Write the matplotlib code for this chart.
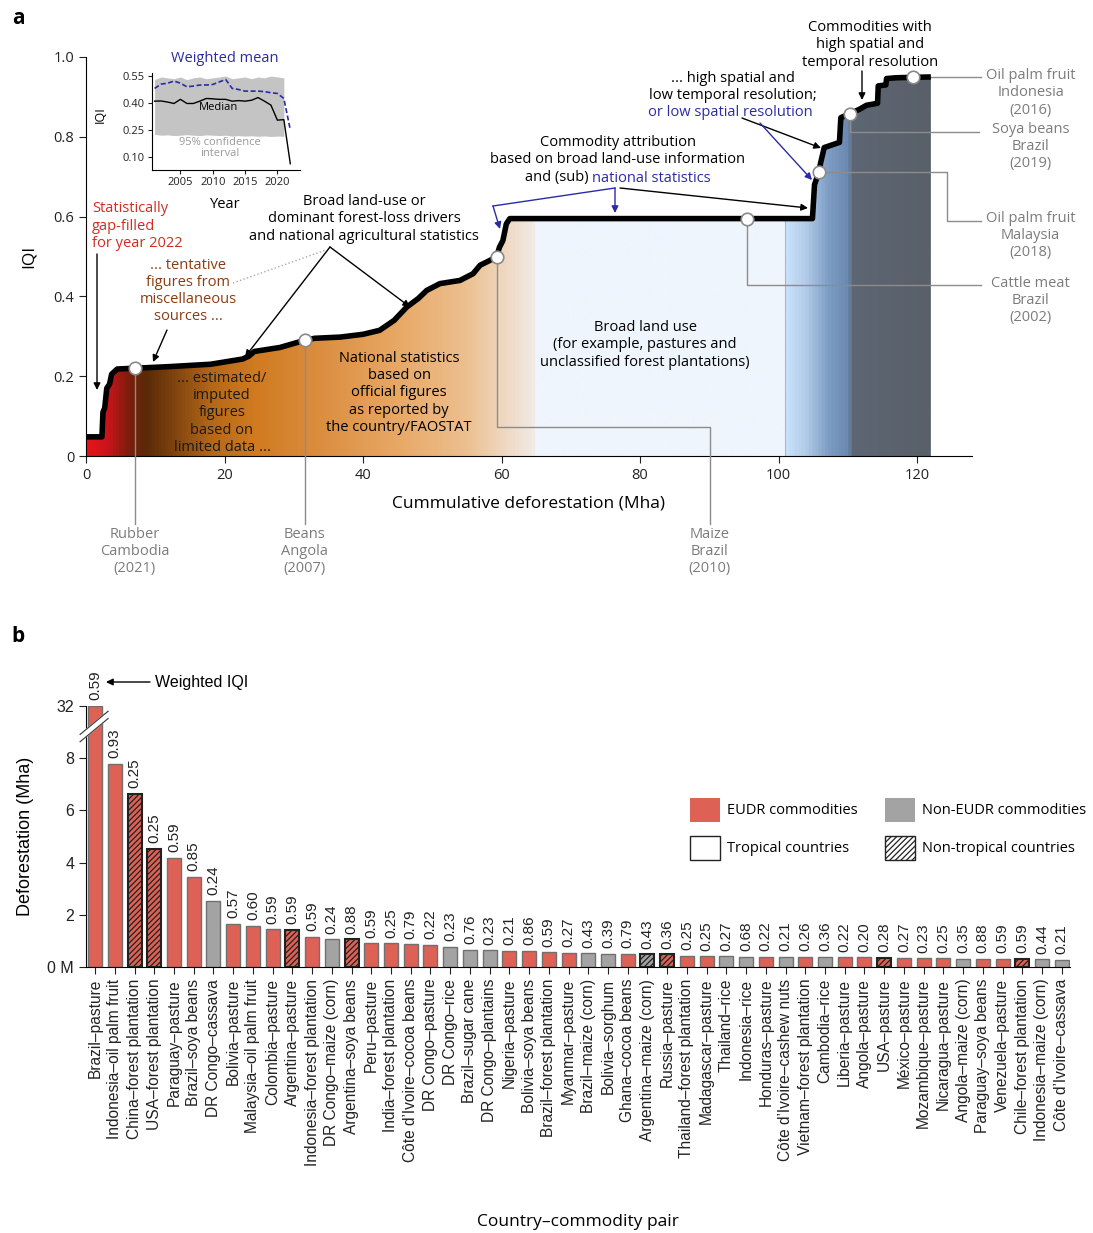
import matplotlib.pyplot as plt
import numpy as np
from matplotlib.colors import LinearSegmentedColormap
from matplotlib.patches import Polygon, Rectangle
from matplotlib.lines import Line2D

plt.rcParams['font.family'] = ['Open Sans', 'DejaVu Sans']
plt.rcParams['hatch.linewidth'] = 0.9

# ---- Panel a data: cumulative deforestation (Mha) vs IQI ----
cum_x = [0, 2.3, 2.45, 2.7, 3.0, 3.4, 3.7, 4.5, 7.07, 12, 18, 22.6, 23.5, 24.3, 28,
         31.6, 33, 36.7, 40, 42.4, 44.5, 46.3, 48, 49.2, 51.1, 54.0, 55.9, 56.9, 58.3,
         59.3, 59.7, 60.2, 60.7, 61.2, 104.9, 105.2, 105.8, 106.1, 106.6, 108.8, 109.0,
         110.3, 111.7, 112.7, 114.3, 114.4, 115.5, 115.6, 117, 119.4, 122]
iqi = [0.048, 0.048, 0.11, 0.12, 0.17, 0.18, 0.205, 0.218, 0.22, 0.224, 0.23, 0.243,
       0.25, 0.262, 0.272, 0.29, 0.295, 0.298, 0.305, 0.315, 0.34, 0.373, 0.395, 0.415,
       0.432, 0.44, 0.457, 0.478, 0.49, 0.50, 0.523, 0.54, 0.582, 0.595, 0.595, 0.68,
       0.711, 0.736, 0.773, 0.786, 0.848, 0.858, 0.869, 0.879, 0.884, 0.9275, 0.93,
       0.946, 0.948, 0.949, 0.95]

# highlighted country-commodity points
hl_x = [7.07, 31.6, 59.3, 95.4, 105.8, 110.3, 119.4]
hl_labels = ["Rubber\nCambodia\n(2021)", "Beans\nAngola\n(2007)", "Maize\nBrazil\n(2010)",
             "Cattle meat\nBrazil\n(2002)", "Oil palm fruit\nMalaysia\n(2018)",
             "Soya beans\nBrazil\n(2019)", "Oil palm fruit\nIndonesia\n(2016)"]

# inset: IQI over years
years = list(range(2001, 2023))
median = [0.41, 0.411, 0.405, 0.397, 0.42, 0.397, 0.397, 0.41, 0.425, 0.423, 0.42,
          0.42, 0.41, 0.413, 0.41, 0.415, 0.43, 0.41, 0.388, 0.304, 0.307, 0.061]
wmean = [0.481, 0.505, 0.51, 0.522, 0.51, 0.49, 0.494, 0.5, 0.5, 0.503, 0.517, 0.531,
         0.481, 0.475, 0.466, 0.466, 0.466, 0.463, 0.457, 0.453, 0.425, 0.25]
band_years = list(range(2001, 2022))
band_hi = [0.53, 0.545, 0.54, 0.535, 0.545, 0.53, 0.54, 0.545, 0.535, 0.54, 0.545,
           0.55, 0.535, 0.54, 0.545, 0.535, 0.545, 0.54, 0.55, 0.545, 0.54]
band_lo = [0.225, 0.22, 0.222, 0.218, 0.22, 0.223, 0.22, 0.218, 0.222, 0.22, 0.218,
           0.22, 0.215, 0.218, 0.215, 0.217, 0.214, 0.216, 0.213, 0.215, 0.214]

# ---- Panel b data ----
pairs = ["Brazil–pasture", "Indonesia–oil palm fruit", "China–forest plantation",
         "USA–forest plantation", "Paraguay–pasture", "Brazil–soya beans",
         "DR Congo–cassava", "Bolivia–pasture", "Malaysia–oil palm fruit",
         "Colombia–pasture", "Argentina–pasture", "Indonesia–forest plantation",
         "DR Congo–maize (corn)", "Argentina–soya beans", "Peru–pasture",
         "India–forest plantation", "Côte d’Ivoire–cocoa beans", "DR Congo–pasture",
         "DR Congo–rice", "Brazil–sugar cane", "DR Congo–plantains", "Nigeria–pasture",
         "Bolivia–soya beans", "Brazil–forest plantation", "Myanmar–pasture",
         "Brazil–maize (corn)", "Bolivia–sorghum", "Ghana–cocoa beans",
         "Argentina–maize (corn)", "Russia–pasture", "Thailand–forest plantation",
         "Madagascar–pasture", "Thailand–rice", "Indonesia–rice", "Honduras–pasture",
         "Côte d’Ivoire–cashew nuts", "Vietnam–forest plantation", "Cambodia–rice",
         "Liberia–pasture", "Angola–pasture", "USA–pasture", "México–pasture",
         "Mozambique–pasture", "Nicaragua–pasture", "Angola–maize (corn)",
         "Paraguay–soya beans", "Venezuela–pasture", "Chile–forest plantation",
         "Indonesia–maize (corn)", "Côte d’Ivoire–cassava"]
defor = [32, 7.78, 6.63, 4.53, 4.18, 3.45, 2.54, 1.66, 1.57, 1.44, 1.42, 1.16, 1.06,
         1.06, 0.91, 0.91, 0.87, 0.84, 0.78, 0.65, 0.64, 0.61, 0.61, 0.56, 0.54, 0.52,
         0.51, 0.49, 0.48, 0.48, 0.43, 0.41, 0.41, 0.40, 0.40, 0.39, 0.39, 0.38, 0.37,
         0.37, 0.36, 0.35, 0.33, 0.33, 0.32, 0.31, 0.30, 0.30, 0.29, 0.28]
w_iqi = [0.59, 0.93, 0.25, 0.25, 0.59, 0.85, 0.24, 0.57, 0.60, 0.59, 0.59, 0.59, 0.24,
         0.88, 0.59, 0.25, 0.79, 0.22, 0.23, 0.76, 0.23, 0.21, 0.86, 0.59, 0.27, 0.43,
         0.39, 0.79, 0.43, 0.36, 0.25, 0.25, 0.27, 0.68, 0.22, 0.21, 0.26, 0.36, 0.22,
         0.20, 0.28, 0.27, 0.23, 0.25, 0.35, 0.88, 0.59, 0.59, 0.44, 0.21]
eudr = [1, 1, 1, 1, 1, 1, 0, 1, 1, 1, 1, 1, 0, 1, 1, 1, 1, 1, 0, 0, 0, 1, 1, 1, 1,
        0, 0, 1, 0, 1, 1, 1, 0, 0, 1, 0, 1, 0, 1, 1, 1, 1, 1, 1, 0, 1, 1, 1, 0, 0]
tropical = [1, 1, 0, 0, 1, 1, 1, 1, 1, 1, 0, 1, 1, 0, 1, 1, 1, 1, 1, 1, 1, 1, 1, 1, 1,
            1, 1, 1, 0, 0, 1, 1, 1, 1, 1, 1, 1, 1, 1, 1, 0, 1, 1, 1, 1, 1, 1, 0, 1, 1]

W, H = 1093, 1233
fig = plt.figure(figsize=(W / 100, H / 100), dpi=100)
ARIAL = ['Liberation Sans']
FS = 10.5  # annotation size
LS = 1.2


def P(px, py):
    return (px / W, 1 - py / H)


def fline(pts, **kw):
    xs = [p[0] / W for p in pts]
    ys = [1 - p[1] / H for p in pts]
    fig.add_artist(Line2D(xs, ys, transform=fig.transFigure, **kw))


def farrow(ax, start, end, color='black', lw=1.0):
    ax.annotate('', xy=P(*end), xycoords='figure fraction', xytext=P(*start),
                textcoords='figure fraction',
                arrowprops=dict(arrowstyle='-|>', color=color, lw=lw,
                                mutation_scale=10, shrinkA=0, shrinkB=0))


def ftext(px, py, s, **kw):
    kw.setdefault('ha', 'center')
    kw.setdefault('va', 'center')
    kw.setdefault('fontsize', FS)
    kw.setdefault('linespacing', LS)
    return fig.text(*P(px, py), s, **kw)


BLUE = '#2b2ba6'
GREY = '#7c7c7c'

# ================= Panel a =================
ax = fig.add_axes([86 / W, 1 - 456 / H, (972 - 86) / W, (456 - 57) / H])

stops = [(0, '#e8141a'), (3, '#c8141a'), (6, '#7a1e0c'), (8.5, '#5a2a08'),
         (12, '#7a400e'), (18, '#b56818'), (24, '#d07a20'), (32, '#d98a3a'),
         (45, '#e8a866'), (55, '#ecc090'), (60, '#efd6bd'), (64.5, '#f1e9e3'),
         (65, '#eef5fd'), (101, '#eef5fd'), (101.3, '#c8e2fb'), (104, '#b3cdea'),
         (107.5, '#7d9cc4'), (110.3, '#6a88b0'), (111.0, '#5d6673'), (122, '#596069')]
cmap = LinearSegmentedColormap.from_list('grad', [(x / 122, c) for x, c in stops])
im = ax.imshow(np.linspace(0, 1, 1500).reshape(1, -1), cmap=cmap, extent=[0, 122, 0, 1],
               aspect='auto', origin='lower', interpolation='bilinear', zorder=1)
poly = Polygon(np.column_stack([cum_x + [122, 0], iqi + [0, 0]]), closed=True,
               transform=ax.transData, facecolor='none', edgecolor='none')
ax.add_patch(poly)
im.set_clip_path(poly)
ax.set_xlim(0, 127.94)
ax.set_ylim(0, 1.0)

ax.plot([101, 101], [0, 0.595], color='#b5b5b5', lw=0.8, zorder=2)
ax.plot(cum_x, iqi, color='black', lw=4, zorder=4, solid_capstyle='butt')

hl_y = np.interp(hl_x, cum_x, iqi)
leaders = [
    [(hl_x[0], hl_y[0]), (hl_x[0], -0.17)],
    [(hl_x[1], hl_y[1]), (hl_x[1], -0.17)],
    [(hl_x[2], hl_y[2]), (hl_x[2], 0.073), (90.1, 0.073), (90.1, -0.17)],
    [(hl_x[3], hl_y[3]), (hl_x[3], 0.4275), (129.3, 0.4275)],
    [(hl_x[4], hl_y[4]), (124.4, hl_y[4]), (124.4, 0.59), (129.3, 0.59)],
    [(hl_x[5], hl_y[5]), (hl_x[5], 0.811), (129.0, 0.811)],
    [(hl_x[6], hl_y[6]), (129.2, hl_y[6])],
]
for path in leaders:
    xs, ys = zip(*path)
    ax.plot(xs, ys, color='#8c8c8c', lw=1, clip_on=False, zorder=3)
ax.plot(hl_x, hl_y, 'o', ms=9, mfc='white', mec='#8a8a8a', mew=1.2, zorder=5, clip_on=False)

label_pos = [(hl_x[0], -0.178), (hl_x[1], -0.178), (90.1, -0.178), (136.4, 0.452),
             (136.4, 0.6145), (136.4, 0.837), (136.4, 0.972)]
for (lx, ly), lab in zip(label_pos, hl_labels):
    ax.text(lx, ly, lab, ha='center', va='top', fontsize=FS, color=GREY,
            linespacing=LS)

ax.spines['top'].set_visible(False)
ax.spines['right'].set_visible(False)
ax.set_xticks([0, 20, 40, 60, 80, 100, 120])
ax.set_yticks([0, 0.2, 0.4, 0.6, 0.8, 1.0])
ax.set_yticklabels(['0', '0.2', '0.4', '0.6', '0.8', '1.0'])
ax.tick_params(labelsize=10.5, length=5, colors='#222222')
ax.set_xlabel('Cummulative deforestation (Mha)', fontsize=12.5, labelpad=9)
ax.set_ylabel('IQI', fontsize=12.5, labelpad=12)

# annotations panel a
ftext(92, 226, 'Statistically\ngap-filled\nfor year 2022', ha='left', color='#d42a20')
farrow(ax, (97, 254), (97, 390))
ftext(188, 291, '... tentative\nfigures from\nmiscellaneous\nsources ...', color='#8a3c10')
farrow(ax, (167, 330), (153, 362))
fline([(233, 283), (326, 250)], color='#aaaaaa', lw=1, ls=':')
ftext(364, 219, 'Broad land-use or\ndominant forest-loss drivers\nand national agricultural statistics')
farrow(ax, (330, 247), (245, 357))
farrow(ax, (330, 247), (410, 307))
ftext(222, 413, '... estimated/\nimputed\nfigures\nbased on\nlimited data ...', color='#1a1a1a')
ftext(399, 393, 'National statistics\nbased on\nofficial figures\nas reported by\nthe country/FAOSTAT')
ftext(645, 345, 'Broad land use\n(for example, pastures and\nunclassified forest plantations)')

ftext(618, 151, 'Commodity attribution\nbased on broad land-use information')
r = fig.canvas.get_renderer()
t1 = ftext(0, 178, 'and (sub) ', ha='left')
t2 = ftext(0, 178, 'national statistics', ha='left', color=BLUE)
w1 = t1.get_window_extent(r).width
w2 = t2.get_window_extent(r).width
x0 = 618 - (w1 + w2) / 2
t1.set_position(P(x0, 178))
t2.set_position(P(x0 + w1, 178))
fline([(615, 188), (493, 206)], color=BLUE, lw=1)
farrow(ax, (493, 206), (500, 229), color=BLUE)
farrow(ax, (615, 188), (615, 213), color=BLUE)
farrow(ax, (620, 188), (808, 208))

ftext(733, 87, '... high spatial and\nlow temporal resolution;')
ftext(730, 113, 'or low spatial resolution', color=BLUE)
farrow(ax, (742, 118), (821, 148))
farrow(ax, (760, 123), (812, 180), color=BLUE)

ftext(870, 45, 'Commodities with\nhigh spatial and\ntemporal resolution')
farrow(ax, (862, 71), (862, 100))

# inset
axi = fig.add_axes([152 / W, 1 - 170 / H, (300 - 152) / W, (170 - 73) / H])
axi.fill_between(band_years, band_lo, band_hi, color='#c4c4c4', lw=0)
axi.plot(years, median, color='black', lw=1)
axi.plot(years, wmean, color=BLUE, lw=1.2, ls=(0, (3, 1.5)))
axi.set_xlim(2000.6, 2023.5)
axi.set_ylim(0.026, 0.567)
axi.set_xticks([2005, 2010, 2015, 2020])
axi.set_yticks([0.10, 0.25, 0.40, 0.55])
axi.set_yticklabels(['0.10', '0.25', '0.40', '0.55'])
axi.tick_params(labelsize=8, length=3, pad=2, colors='#222222')
axi.spines['top'].set_visible(False)
axi.spines['right'].set_visible(False)
axi.set_facecolor('none')
ftext(225, 59, 'Weighted mean', color=BLUE, fontsize=10.5)
ftext(218, 108, 'Median', fontsize=8)
ftext(220, 148, '95% confidence\ninterval', fontsize=8, color='#9a9a9a', linespacing=1.0)
ftext(100, 115, 'IQI', rotation=90, fontsize=9)
ftext(225, 204, 'Year', fontsize=10.5)

ftext(18, 18, 'a', fontsize=15, fontweight='bold', ha='center')

# ================= Panel b =================
axb = fig.add_axes([86 / W, 1 - 967 / H, (1070 - 86) / W, (967 - 706) / H])
n = len(pairs)
pos = np.arange(n)
shown = np.minimum(defor, 10)  # axis is broken above 8 Mha; 32 Mha drawn at 10
for i in range(n):
    fc = '#dd6155' if eudr[i] else '#a3a3a3'
    if tropical[i]:
        axb.bar(pos[i], shown[i], 0.71, color=fc, edgecolor='#707070', lw=1, zorder=2)
    else:
        axb.bar(pos[i], shown[i], 0.71, color=fc, edgecolor='#222222', lw=1.5,
                hatch='//////', zorder=2)
    axb.text(pos[i], shown[i] + 0.22, f'{w_iqi[i]:.2f}', rotation=90, ha='center',
             va='bottom', fontsize=11, family=ARIAL, color='#222222')

axb.set_xlim(-0.46, 49.42)
axb.set_ylim(0, 10)
axb.set_yticks([0, 2, 4, 6, 8, 10])
axb.set_yticklabels(['0 M', '2', '4', '6', '8', '32'], family=ARIAL)
axb.set_xticks(pos)
axb.set_xticklabels(pairs, rotation=90, family=ARIAL)
axb.tick_params(labelsize=11.5, length=5, colors='#222222')
axb.tick_params(axis='x', labelsize=11.2)
axb.spines['top'].set_visible(False)
axb.spines['right'].set_visible(False)

# break marks
bx = [-0.76, 0.66]
by = [8.77, 9.66]
axb.plot(bx, by, color='white', lw=5, clip_on=False, zorder=6, solid_capstyle='butt')
axb.plot(bx, [by[0] - 0.14, by[1] - 0.14], color='#333333', lw=0.8, clip_on=False, zorder=7)
axb.plot(bx, [by[0] + 0.14, by[1] + 0.14], color='#333333', lw=0.8, clip_on=False, zorder=7)

farrow(axb, (150, 682), (106, 682))
ftext(155, 682, 'Weighted IQI', ha='left', fontsize=11.5, family=ARIAL)

# legend
legend_items = [((690, 798), '#dd6155', None, 'none', 'EUDR commodities'),
                ((885, 798), '#a3a3a3', None, 'none', 'Non-EUDR commodities'),
                ((690, 836), 'white', None, '#222222', 'Tropical countries'),
                ((885, 836), 'white', '//////', '#222222', 'Non-tropical countries')]
for (lx, ly), fc, hatch, ec, lab in legend_items:
    fig.add_artist(Rectangle(P(lx, ly + 24), 30 / W, 24 / H, transform=fig.transFigure,
                             facecolor=fc, edgecolor=ec, hatch=hatch, lw=1))
    ftext(lx + 37, ly + 12, lab, ha='left', fontsize=10.5)

ftext(25, 836, 'Deforestation (Mha)', rotation=90, fontsize=13, family=ARIAL)
ftext(578, 1222, 'Country–commodity pair', fontsize=12.5)
ftext(18, 636, 'b', fontsize=15, fontweight='bold')

fig.savefig('out.png', dpi=100)
